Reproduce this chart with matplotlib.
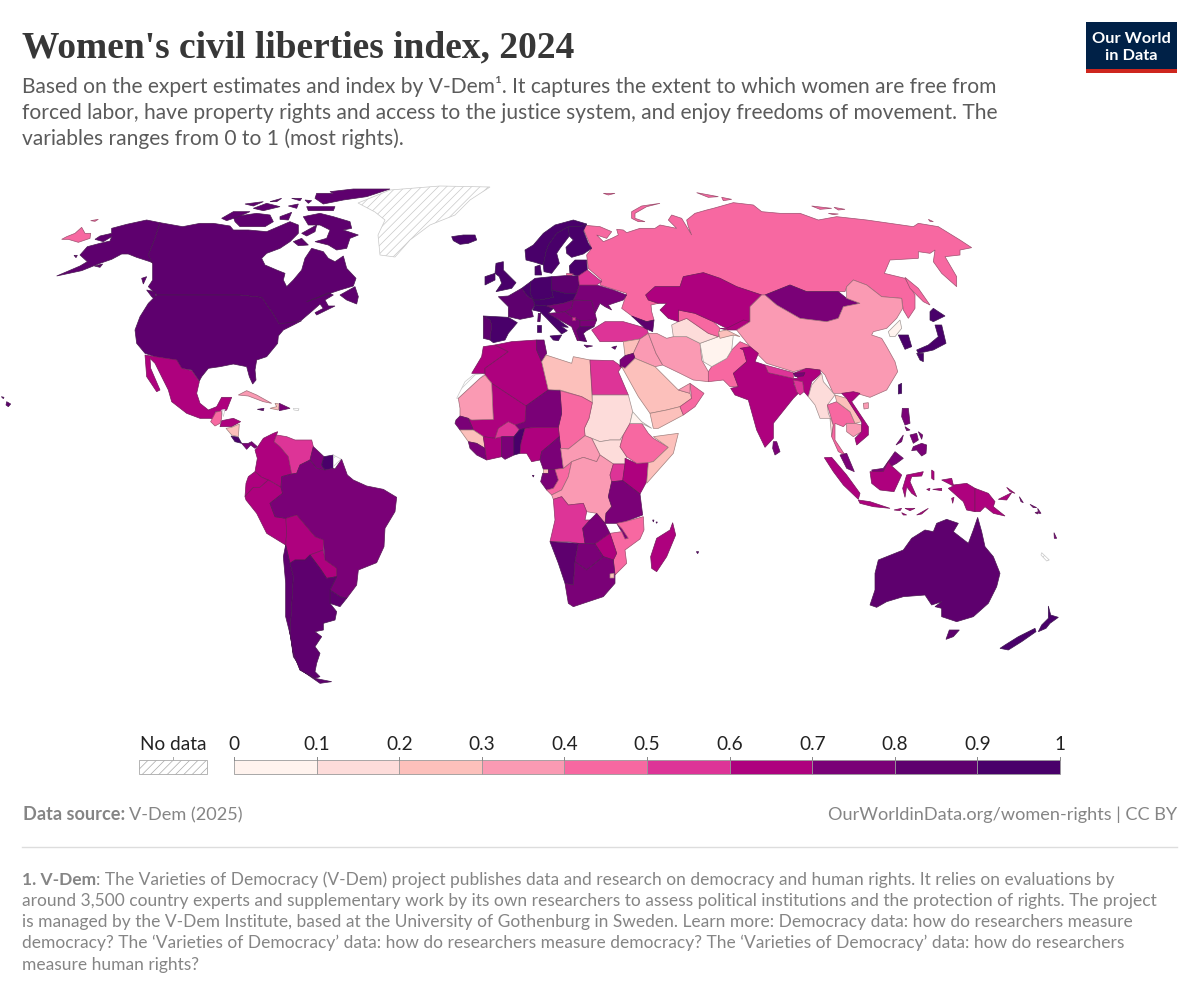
import matplotlib
matplotlib.use("Agg")
import matplotlib.pyplot as plt
from matplotlib.patches import Polygon, Rectangle
from matplotlib.colors import BoundaryNorm, ListedColormap, to_rgb

# ---------- data ----------
BIN_EDGES = [0, .1, .2, .3, .4, .5, .6, .7, .8, .9, 1]
BIN_LABELS = ["0", "0.1", "0.2", "0.3", "0.4", "0.5", "0.6", "0.7", "0.8", "0.9", "1"]
BIN_COLORS = ["#fff3ee", "#fddcda", "#fcc0bb", "#fa9ab3", "#f768a1", "#dd3497",
              "#ae017e", "#7a0177", "#5e006e", "#49006a"]
NO_DATA = ["Greenland", "W Sahara", "French Guiana", "Belize", "Puerto Rico", "New Caledonia"]

VALUES = {
 "USA": .85, "Alaska": .85, "Canada": .85, "Hawaii": .85, "Iceland": .93, "Chukotka": .45, "Wrangel": .45,
 "Mexico": .65, "Guatemala": .45, "Honduras": .65, "Nicaragua": .25, "Costa Rica": .92, "Panama": .78,
 "Cuba": .33, "Haiti": .25, "Dominican Rep": .75, "Jamaica": .85,
 "Colombia": .68, "Ecuador": .68, "Peru": .65, "Venezuela": .55, "Guyana": .75, "Suriname": .9,
 "Brazil": .76, "Bolivia": .66, "Paraguay": .66, "Uruguay": .85, "Chile": .85, "Argentina": .85,
 "Morocco": .65, "Algeria": .65, "Tunisia": .75, "Libya": .25, "Egypt": .55, "Sudan": .15, "S Sudan": .15,
 "Chad": .45, "Niger": .75, "Mali": .65, "Mauritania": .33, "Senegal": .76, "Guinea": .25, "Sierra Liberia": .74,
 "Ivory Coast": .66, "Burkina Faso": .55, "Ghana": .78, "Benin Togo": .92, "Nigeria": .65, "Cameroon": .72,
 "Eq Guinea": .25, "Gabon": .76, "Congo": .45, "CAR": .35, "DRC": .35, "Uganda": .55, "Kenya": .66,
 "Ethiopia": .45, "Somalia": .25, "Eritrea": .05, "Tanzania": .75, "Angola": .55, "Zambia": .76, "Malawi": .76,
 "Mozambique": .45, "Zimbabwe": .65, "Namibia": .86, "Botswana": .78, "South Africa": .78, "Madagascar": .66,
 "Eswatini": .25,
 "Indonesia": .65, "Malaysia": .75, "Philippines": .76, "PNG": .65, "Solomon": .75, "Australia": .85,
 "Tasmania": .85, "New Zealand": .92, "Sri Lanka": .76, "Myanmar": .15, "Thailand": .45, "Laos": .25,
 "Cambodia": .33, "Vietnam": .65, "Islands": .85,
 "Norway": .94, "Sweden": .94, "Finland": .94, "Baltics": .92, "Poland": .82, "Denmark": .94, "Germany": .93,
 "Benelux": .92, "France": .88, "Spain": .9, "Portugal": .85, "UK": .9, "Ireland": .92, "Central": .9,
 "Italy": .9, "Hungary": .78, "Romania": .76, "Ukraine": .76, "Belarus": .55, "Balkans": .78, "Bulgaria": .76,
 "Greece": .85, "Kosovo": .55, "Kaliningrad": .45,
 "Turkey": .55, "Syria": .25, "Iraq": .35, "Jordan": .72, "Saudi Arabia": .25, "Yemen": .25, "Oman": .45, "UAE": .33,
 "Iran": .33, "Pakistan": .45, "Afghanistan": .05, "Turkmenistan": .15, "Uzbekistan": .45, "Kazakhstan": .65,
 "Kyrgyzstan": .68, "Tajikistan": .25, "Caucasus": .85, "Mongolia": .76, "China": .33, "Russia": .45,
 "N Korea": .05, "S Korea": .92, "Japan": .93, "Taiwan": .92, "Nepal": .55, "Bhutan": .75, "India": .65,
 "Bangladesh": .55,
}

ORIGINS = {"na": (0, 180), "sa": (120, 400), "eu": (440, 210), "af": (440, 340), "as": (580, 190), "oc": (740, 360)}

NA = {
 "Greenland": [[(1074,69),(1170,30),(1320,18),(1470,21),(1410,60),(1365,105),(1290,135),(1230,180),(1185,231),(1140,225),(1134,165),(1155,120),(1125,96)]],
 "Alaska": [[(335,145),(380,133),(440,120),(480,128),(465,175),(445,225),(460,250),(450,245),(410,232),(385,222),(365,222),(335,238),(300,250),(245,272),(170,288),(240,258),(262,245),(240,225),(262,200),(300,190),(330,183),(335,170),(310,185),(285,178),(300,168),(335,160)],
            [(222,226),(232,226),(228,233)],[(283,258),(308,252),(300,262)],[(425,295),(440,290),(430,312)]],
 "Canada": [[(480,128),(548,140),(600,130),(640,130),(690,138),(700,150),(745,150),(800,155),(835,140),(870,125),(895,135),(895,160),(870,185),(840,205),(800,220),(785,235),(795,255),(830,270),(855,280),(850,300),(860,320),(880,300),(905,270),(915,235),(935,205),(970,215),(985,235),(1005,245),(1030,228),(1040,265),(1068,295),(1060,318),(1020,330),(975,345),(920,365),(960,350),(985,338),(1000,345),(975,360),(985,378),(1005,378),(950,405),(945,398),(970,385),(960,372),(940,390),(905,420),(880,428),(838,432),(815,395),(785,352),(720,345),(470,345),(445,320),(458,300),(458,250),(445,225),(465,175)],
   [(910,110),(960,100),(1000,110),(1050,125),(1055,145),(1030,150),(1075,165),(1050,175),(1040,205),(1010,210),(985,195),(945,185),(980,175),(990,150),(960,135),(925,135)],
   [(880,185),(905,175),(925,195),(895,197)],[(905,160),(950,135),(945,155),(920,168)],
   [(700,110),(770,100),(810,105),(820,125),(795,140),(720,140),(705,125)],
   [(665,115),(700,95),(750,95),(715,110),(680,122)],
   [(990,35),(1060,27),(1170,27),(1100,50),(1030,60),(970,72),(945,55),(950,40),(1000,40)],
   [(920,80),(1005,80),(1000,92),(925,92)],[(735,72),(790,65),(760,78)],[(760,85),(800,70),(840,80),(790,92)],
   [(810,65),(845,55),(830,65)],[(875,55),(905,55),(900,62)],[(865,78),(895,72),(890,85)],
   [(840,110),(875,97),(865,120),(840,118)],[(915,60),(935,62),(925,70)],
   [(1020,345),(1065,320),(1075,350),(1070,372),(1040,360)],[(440,330),(465,335),(470,362),(455,350)]],
 "USA": [[(470,345),(720,345),(785,352),(815,395),(838,432),(905,422),(880,435),(850,450),(835,468),(833,490),(800,530),(770,540),(765,570),(768,600),(758,612),(748,590),(740,560),(700,552),(660,560),(625,565),(605,590),(598,603),(575,570),(545,565),(530,540),(465,530),(435,520),(410,490),(405,450),(420,410),(445,370)]],
 "Chukotka": [[(185,178),(200,170),(225,160),(245,142),(255,160),(272,160),(270,175),(235,187),(205,178)]],
 "Wrangel": [[(272,122),(295,118),(285,124)]],
 "Hawaii": [[(20,665),(32,672),(25,680),(18,675)],[(4,650),(12,652),(10,656)]],
 "Mexico": [[(435,525),(465,530),(530,540),(545,565),(575,572),(598,605),(590,640),(600,670),(625,690),(650,680),(665,652),(695,652),(680,690),(668,695),(645,695),(650,720),(630,715),(600,715),(560,700),(515,665),(505,630),(465,550),(450,535),(452,565),(480,630),(470,635),(440,590),(437,550)]],
 "Cuba": [[(715,645),(740,632),(770,645),(815,670),(790,665),(745,648)]],
 "Haiti": [[(825,670),(838,672),(835,690),(810,685),(830,680)]],
 "Dominican Rep": [[(838,670),(870,685),(838,692)]],
 "Jamaica": [[(772,688),(792,685),(790,692)]],
 "Puerto Rico": [[(880,685),(897,686),(895,692),(882,690)]],
}
SA = {
 "Guatemala": [[(287,37),(305,32),(305,55),(300,70),(285,78),(272,65)]],
 "Belize": [[(305,30),(315,28),(310,50)]],
 "Honduras": [[(305,62),(340,55),(362,65),(335,80),(315,80),(300,80)]],
 "Nicaragua": [[(335,82),(358,72),(355,110),(335,105),(318,85)]],
 "Costa Rica": [[(333,108),(355,112),(365,130),(345,125)]],
 "Panama": [[(365,130),(385,130),(395,125),(412,140),(405,145),(392,135),(380,148)]],
 "Colombia": [[(410,145),(430,115),(460,100),(473,95),(462,125),(480,140),(505,170),(515,222),(485,230),(483,262),(455,245),(425,232),(405,215),(412,175),(405,150)]],
 "Ecuador": [[(405,215),(425,232),(445,240),(420,262),(400,262),(375,290),(378,250),(385,230)]],
 "Peru": [[(375,290),(400,262),(420,262),(445,240),(483,262),(488,280),(450,310),(465,350),(498,355),(500,400),(497,435),(440,400),(410,340),(378,300)]],
 "Venezuela": [[(470,105),(500,110),(525,120),(575,120),(580,140),(570,180),(540,195),(530,220),(515,222),(505,170),(480,140),(462,125)]],
 "Guyana": [[(580,140),(612,170),(605,195),(615,210),(590,205),(570,180)]],
 "Suriname": [[(612,170),(640,165),(640,205),(615,210),(605,195)]],
 "French Guiana": [[(640,165),(665,178),(645,207),(640,205)]],
 "Brazil": [[(485,230),(515,222),(530,220),(540,195),(570,180),(590,205),(615,210),(640,205),(645,207),(665,178),(682,225),(700,240),(740,258),(790,268),(830,292),(825,335),(795,385),(792,440),(770,488),(715,510),(710,555),(680,595),(660,590),(630,570),(650,530),(650,505),(615,480),(610,420),(585,410),(530,345),(498,355),(465,350),(450,310),(488,280),(483,262)]],
 "Bolivia": [[(498,355),(530,345),(585,410),(610,420),(610,450),(570,465),(555,480),(525,480),(510,490),(497,435),(500,400)]],
 "Paraguay": [[(570,465),(610,450),(615,480),(650,505),(650,530),(620,535),(600,505)]],
 "Uruguay": [[(630,570),(660,590),(680,595),(660,620),(630,610)]],
 "Chile": [[(497,435),(510,490),(520,530),(515,620),(510,700),(520,760),(540,810),(585,835),(635,845),(600,850),(550,815),(520,770),(512,710),(497,650),(497,550),(490,470)]],
 "Argentina": [[(510,490),(525,480),(555,480),(570,465),(600,505),(620,535),(650,530),(630,570),(630,610),(650,635),(645,660),(610,670),(610,690),(585,695),(605,710),(585,740),(600,760),(590,790),(585,815),(600,830),(585,835),(540,810),(520,760),(510,700),(515,620),(520,530)]],
}
AF = {
 "W Sahara": [[(50,175),(75,125),(100,105),(135,100),(135,105),(120,115),(55,175)]],
 "Morocco": [[(95,100),(125,50),(130,20),(165,15),(205,35),(135,85),(135,100)]],
 "Algeria": [[(165,15),(215,5),(290,0),(290,30),(305,65),(325,150),(258,198),(155,130),(135,105),(135,85),(205,35)]],
 "Tunisia": [[(290,0),(312,0),(320,40),(305,65),(290,30)]],
 "Libya": [[(305,65),(318,45),(395,70),(400,50),(450,60),(457,188),(425,170),(360,150),(325,150)]],
 "Egypt": [[(450,60),(520,62),(545,80),(535,95),(565,165),(457,165)]],
 "Sudan": [[(457,165),(565,165),(578,215),(570,250),(550,285),(540,300),(510,300),(480,305),(455,295),(435,287),(433,265),(447,235),(457,188)]],
 "S Sudan": [[(455,295),(480,305),(510,300),(540,300),(550,285),(540,320),(560,350),(555,372),(520,372),(480,345)]],
 "Chad": [[(360,152),(425,170),(457,188),(447,235),(433,265),(435,287),(385,327),(362,325),(355,262),(365,220)]],
 "Niger": [[(258,198),(325,150),(360,152),(365,220),(355,262),(290,262),(255,265),(238,270),(225,255),(255,245)]],
 "Mali": [[(155,130),(258,198),(255,245),(225,255),(205,245),(175,265),(165,295),(130,290),(100,270),(85,235),(95,240),(160,238)]],
 "Mauritania": [[(55,175),(120,115),(135,105),(155,130),(160,238),(95,240),(85,235),(60,228),(60,205)]],
 "Senegal": [[(48,240),(60,228),(85,235),(100,270),(60,270),(45,250)]],
 "Guinea": [[(60,270),(100,270),(130,290),(135,325),(110,310),(85,305)]],
 "Sierra Liberia": [[(85,305),(110,310),(135,325),(140,360),(110,345),(90,325)]],
 "Ivory Coast": [[(130,290),(165,295),(185,290),(185,350),(140,360),(135,325)]],
 "Burkina Faso": [[(165,295),(175,265),(205,245),(225,255),(238,270),(222,290),(185,290)]],
 "Ghana": [[(185,290),(222,290),(222,345),(195,358),(185,350)]],
 "Benin Togo": [[(222,290),(238,270),(255,265),(243,310),(240,340),(222,345)]],
 "Nigeria": [[(243,310),(255,265),(290,262),(355,262),(358,290),(335,310),(305,335),(300,360),(275,365),(260,340),(240,340)]],
 "Cameroon": [[(300,360),(305,335),(335,310),(358,290),(362,325),(370,385),(345,388),(310,388)]],
 "Eq Guinea": [[(310,388),(325,388),(325,400),(308,400)]],
 "Gabon": [[(308,400),(325,400),(325,388),(345,388),(355,420),(340,445),(320,450),(302,425)]],
 "Congo": [[(345,388),(370,385),(395,365),(385,410),(365,450),(335,465),(320,450),(340,445),(355,420)]],
 "CAR": [[(362,325),(385,327),(435,287),(455,295),(480,345),(470,365),(430,352),(395,365),(370,385)]],
 "DRC": [[(335,465),(365,450),(385,410),(395,365),(430,352),(470,365),(480,345),(520,372),(510,405),(515,425),(505,470),(515,500),(498,520),(495,550),(470,520),(440,515),(430,490),(385,495),(365,470),(340,478)]],
 "Uganda": [[(520,372),(555,372),(548,422),(515,425),(510,405)]],
 "Kenya": [[(555,355),(590,370),(625,368),(620,425),(600,462),(548,422),(555,372)]],
 "Ethiopia": [[(570,250),(605,250),(625,280),(640,295),(685,322),(640,365),(625,368),(590,370),(560,350),(540,320),(550,285)]],
 "Somalia": [[(640,290),(715,280),(700,340),(620,430),(625,368),(640,365),(685,322)]],
 "Eritrea": [[(578,215),(605,245),(635,265),(605,250),(570,250)]],
 "Tanzania": [[(515,425),(548,422),(600,462),(608,525),(555,545),(530,550),(495,550),(498,520),(515,500),(505,470)]],
 "Angola": [[(340,478),(365,470),(385,495),(430,490),(440,515),(435,540),(450,540),(428,565),(435,610),(415,610),(385,605),(330,605),(345,540)]],
 "Zambia": [[(450,540),(470,520),(495,550),(510,580),(465,612),(435,610),(428,565)]],
 "Malawi": [[(530,550),(545,565),(565,595),(555,597),(545,575)]],
 "Mozambique": [[(610,530),(612,570),(600,597),(555,630),(560,670),(525,705),(520,660),(530,640),(510,580),(545,575),(555,597),(565,595),(545,565),(530,550),(555,545)]],
 "Zimbabwe": [[(465,612),(510,580),(530,640),(520,660),(490,650)]],
 "Namibia": [[(330,605),(415,610),(405,665),(400,735),(375,730),(355,670)]],
 "Botswana": [[(415,610),(465,612),(490,650),(440,690),(405,665)]],
 "South Africa": [[(405,665),(440,690),(490,650),(520,660),(525,705),(525,730),(490,770),(400,800),(385,790),(375,730),(400,735)]],
 "Eswatini": [[(510,702),(522,700),(522,714),(510,714)]],
 "Madagascar": [[(698,548),(707,585),(680,650),(650,695),(635,685),(632,650),(650,595),(690,570)]],
 "Islands": [[(277,406),(282,406),(280,411)],[(769,635),(776,635),(773,641)],[(638,540),(642,540),(640,546)],[(648,546),(652,546),(650,550)]],
}
EU = {
 "Iceland": [[(35,80),(70,75),(105,75),(110,90),(85,100),(60,103),(40,92)]],
 "Norway": [[(255,120),(280,105),(310,70),(345,45),(400,30),(440,42),(420,50),(385,50),(350,70),(325,105),(318,125),(310,165),(285,157),(258,150)]],
 "Sweden": [[(318,125),(325,105),(350,70),(385,50),(388,78),(360,115),(350,130),(358,160),(335,190),(312,185),(310,165)]],
 "Finland": [[(385,50),(420,50),(440,42),(430,62),(445,100),(455,115),(430,132),(395,142),(380,130),(378,112),(400,90),(388,78)]],
 "Baltics": [[(388,168),(405,150),(440,150),(442,180),(415,198),(390,192)]],
 "Kaliningrad": [[(380,190),(400,192),(395,197),(380,197)]],
 "Poland": [[(335,200),(375,197),(415,198),(418,225),(410,250),(375,250),(335,240)]],
 "Denmark": [[(285,170),(300,165),(305,195),(285,195)]],
 "Germany": [[(272,215),(285,205),(335,200),(335,240),(340,262),(300,270),(280,270),(270,250)]],
 "Benelux": [[(245,235),(272,215),(270,250),(280,270),(262,258)]],
 "France": [[(175,260),(205,258),(245,235),(262,258),(280,270),(285,285),(275,300),(280,320),(240,328),(205,320),(205,290)],[(295,310),(302,310),(300,335),(293,335)]],
 "Spain": [[(130,318),(205,322),(232,338),(205,370),(195,390),(160,398),(150,390),(155,345),(150,330)]],
 "Portugal": [[(130,318),(150,330),(155,345),(150,390),(130,385)]],
 "UK": [[(168,160),(190,155),(190,180),(205,195),(228,218),(215,235),(168,245),(185,220),(178,200),(165,190)]],
 "Ireland": [[(135,200),(165,190),(165,210),(135,225)]],
 "Central": [[(335,240),(375,250),(410,250),(400,270),(370,280),(320,288),(285,285),(280,270),(300,270),(340,262)]],
 "Italy": [[(285,285),(320,288),(340,295),(325,310),(350,325),(385,352),(365,350),(382,362),(365,372),(320,325),(300,305),(278,300)],[(330,378),(365,375),(355,392),(340,390)],[(290,345),(302,345),(302,365),(290,365)]],
 "Hungary": [[(340,295),(320,288),(370,280),(400,270),(395,295),(375,305),(350,308)]],
 "Romania": [[(400,270),(455,272),(465,310),(470,330),(420,332),(395,320),(375,305),(395,295)]],
 "Ukraine": [[(418,225),(470,225),(520,240),(560,255),(550,270),(505,285),(515,300),(495,290),(480,280),(465,310),(455,272),(400,270),(410,250)]],
 "Belarus": [[(415,198),(442,180),(485,215),(470,225),(418,225)]],
 "Balkans": [[(325,310),(350,308),(375,305),(395,320),(420,332),(420,350),(410,362),(425,392),(412,392),(395,350),(350,325)]],
 "Bulgaria": [[(420,332),(470,330),(462,350),(420,350)]],
 "Greece": [[(410,362),(420,350),(462,350),(440,362),(430,370),(440,395),(420,392)],[(432,405),(458,408),(440,412)],[(515,412),(530,408),(525,418)]],
 "Kosovo": [[(396,320),(405,320),(405,330),(396,330)]],
}
AS = {
 "Russia": [[(5,105),(60,110),(95,125),(80,145),(50,135),(70,155),(95,145),(115,135),(110,118),(130,120),(140,128),(180,115),(225,115),(240,105),(290,115),(265,90),(275,75),(305,85),(335,135),(325,110),(320,90),(345,70),(380,60),(400,55),(460,38),(520,45),(545,65),(600,70),(660,70),(715,90),(770,80),(860,90),(930,100),(1000,110),(1015,100),(1075,110),(1140,150),(1175,173),(1140,180),(1140,195),(1095,200),(1130,260),(1130,290),(1085,250),(1060,215),(1065,180),(1050,190),(1015,185),(1015,205),(930,210),(913,250),(975,265),(1005,315),(1005,355),(985,385),(970,360),(965,325),(905,320),(860,285),(820,270),(800,290),(795,305),(775,305),(680,305),(630,285),(555,315),(545,315),(470,290),(420,265),(370,248),(310,260),(300,290),(225,290),(197,315),(205,330),(235,340),(213,345),(215,365),(222,390),(200,395),(165,385),(125,355),(140,310),(60,285),(65,270),(25,235),(20,195),(35,175)],
   [(975,262),(1015,295),(1050,345),(1030,335),(990,295)],
   [(240,40),(200,50),(165,70),(165,85),(195,95),(175,95),(155,85),(155,65),(185,48)],
   [(70,10),(105,10),(85,15)],[(350,8),(415,20),(385,22)],[(425,22),(455,28),(430,32)],
   [(695,48),(755,55),(720,58)],[(762,52),(795,58),(775,60)],[(745,70),(775,72),(760,74)],[(1045,88),(1060,95),(1050,94)]],
 "Turkey": [[(35,420),(75,395),(130,395),(200,415),(205,430),(180,447),(130,455),(60,455)]],
 "Syria": [[(130,455),(180,447),(160,490),(135,497)]],
 "Iraq": [[(180,447),(205,430),(228,490),(248,525),(225,530),(165,505),(160,490)]],
 "Jordan": [[(120,510),(135,497),(160,490),(165,505),(135,535),(120,530)]],
 "Saudi Arabia": [[(125,530),(135,535),(165,505),(225,530),(295,600),(330,610),(335,625),(300,650),(260,660),(210,670),(175,620)]],
 "Yemen": [[(210,670),(260,660),(300,650),(310,675),(235,715),(220,715)]],
 "Oman": [[(330,580),(372,610),(345,650),(310,675),(300,650),(335,625)]],
 "UAE": [[(295,600),(330,580),(330,610)]],
 "Iran": [[(205,430),(230,430),(260,445),(280,440),(320,440),(360,460),(365,510),(385,545),(385,575),(340,570),(300,550),(248,525),(228,490)]],
 "Pakistan": [[(395,530),(440,505),(455,480),(480,455),(515,470),(490,480),(500,515),(460,550),(475,590),(450,590),(430,570),(385,575),(385,545)]],
 "Afghanistan": [[(360,460),(415,440),(460,435),(455,480),(440,505),(395,530),(370,515)]],
 "Turkmenistan": [[(275,405),(295,395),(320,385),(385,430),(415,440),(360,460),(320,440),(280,440)]],
 "Uzbekistan": [[(295,360),(345,370),(400,395),(420,415),(415,440),(385,430),(320,385),(295,395)]],
 "Kazakhstan": [[(197,315),(225,290),(300,290),(310,260),(370,248),(420,265),(470,290),(545,315),(510,350),(510,395),(440,415),(400,395),(345,370),(295,360),(295,395),(265,385),(240,360),(260,340),(235,340),(205,330)]],
 "Kyrgyzstan": [[(420,415),(440,415),(490,390),(510,395),(480,420),(440,420)]],
 "Tajikistan": [[(415,425),(440,420),(480,440),(460,435),(420,445)]],
 "Caucasus": [[(155,378),(200,395),(222,390),(218,425),(195,415)]],
 "Mongolia": [[(555,315),(630,285),(680,305),(775,305),(800,325),(840,340),(790,350),(775,385),(740,395),(660,385),(590,345)]],
 "China": [[(545,315),(555,315),(590,345),(660,385),(740,395),(775,385),(790,350),(840,340),(800,325),(800,290),(820,270),(860,285),(905,320),(965,325),(968,355),(950,385),(920,415),(880,425),(875,435),(905,445),(920,470),(945,515),(953,545),(920,600),(870,622),(830,610),(790,610),(760,610),(735,555),(720,540),(680,535),(640,545),(560,520),(510,470),(470,420),(510,395),(510,350)],
           [(850,640),(865,638),(865,655),(852,657)]],
 "N Korea": [[(925,425),(960,390),(965,415),(945,440),(930,440)]],
 "S Korea": [[(955,435),(985,435),(995,470),(975,478)]],
 "Japan": [[(1050,365),(1060,355),(1095,378),(1060,395),(1050,390)],[(1065,405),(1085,405),(1098,460),(1060,480),(1015,490),(1010,480),(1045,465),(1075,440)],[(1010,490),(1030,490),(1030,515),(1020,510)]],
 "Taiwan": [[(955,585),(965,580),(965,610),(955,612)]],
 "India": [[(480,475),(510,470),(535,490),(525,515),(555,525),(565,548),(640,565),(655,565),(640,550),(680,535),(720,540),(722,552),(695,575),(685,620),(672,605),(668,575),(640,580),(655,610),(640,625),(580,700),(580,745),(555,772),(530,720),(505,630),(465,615),(452,595),(475,590),(460,550),(500,515),(490,480)]],
 "Nepal": [[(555,525),(640,548),(640,565),(565,548)]],
 "Bhutan": [[(640,550),(675,548),(670,558),(645,560)]],
 "Bangladesh": [[(640,570),(668,575),(672,605),(660,615),(650,605)]],
}
OC = {
 "Sri Lanka": [[(100,245),(110,245),(120,275),(105,285),(98,265)]],
 "Myanmar": [[(245,40),(250,65),(285,105),(262,135),(265,160),(280,195),(275,230),(270,175),(240,175),(225,135),(205,110),(215,75)]],
 "Thailand": [[(262,135),(290,125),(330,155),(345,190),(320,190),(310,200),(285,190),(285,240),(315,285),(295,275),(275,230),(280,195)]],
 "Laos": [[(285,105),(320,115),(365,185),(345,190),(330,155),(290,125)]],
 "Cambodia": [[(320,190),(345,190),(365,195),(365,215),(340,230),(320,215)]],
 "Vietnam": [[(305,100),(340,95),(360,100),(335,125),(385,200),(385,225),(350,255),(345,235),(365,215),(365,185),(320,115)]],
 "Malaysia": [[(300,285),(320,280),(343,335),(320,325)],[(395,330),(430,325),(465,275),(490,295),(470,310),(455,318),(445,305),(430,335),(400,340)]],
 "Indonesia": [[(390,335),(430,335),(445,305),(455,318),(485,345),(462,395),(420,390),(395,370)],
   [(253,293),(275,292),(320,345),(360,400),(355,418),(310,375),(280,335)],
   [(355,420),(390,425),(450,445),(400,440),(360,430)],
   [(500,345),(550,335),(545,348),(515,350),(510,365),(530,410),(515,400),(500,380),(495,412),(488,385)],
   [(462,450),(485,445),(480,452)],[(495,445),(525,445),(510,452)],[(530,465),(565,445),(545,462)],[(485,458),(500,465),(490,465)],
   [(575,330),(582,335),(582,360),(575,355)],[(560,388),(570,385),(568,392)],[(578,388),(605,385),(605,392)],[(635,415),(642,412),(638,430)],
   [(605,360),(635,355),(640,375),(680,370),(705,385),(705,455),(680,450),(670,425),(625,385),(640,378)]],
 "PNG": [[(705,385),(745,400),(765,425),(760,440),(795,468),(760,460),(735,440),(720,455),(705,455)],[(775,418),(815,398),(800,420)],[(800,382),(825,400),(810,395)]],
 "Solomon": [[(838,410),(850,428),(843,425)],[(870,433),(890,443),(880,443)],[(885,458),(895,455),(893,462)],[(893,445),(903,460),(896,460)],[(942,518),(950,535),(943,535)]],
 "Philippines": [[(487,145),(505,145),(510,190),(495,195),(485,170)],[(520,260),(545,250),(560,255),(558,280),(545,288),(530,270),(515,272)],[(510,225),(530,220),(535,240),(520,250)],[(495,200),(510,210),(500,212)],[(535,215),(548,225),(545,238)],[(468,255),(490,225),(485,245)]],
 "Australia": [[(390,735),(405,690),(405,640),(415,600),(490,570),(515,535),(555,510),(580,515),(590,490),(620,478),(655,490),(640,515),(685,550),(700,510),(713,472),(725,515),(735,560),(760,590),(780,640),(770,680),(745,730),(700,770),(650,785),(605,770),(605,745),(585,740),(605,725),(575,735),(555,705),(490,710),(440,725),(410,742)]],
 "Tasmania": [[(628,810),(658,810),(640,830),(618,838)]],
 "New Zealand": [[(780,865),(795,855),(835,830),(885,805),(888,815),(845,845),(805,870)],[(925,738),(932,765),(955,772),(930,790),(918,805),(895,815),(905,795),(925,775),(925,760)]],
 "New Caledonia": [[(905,578),(928,600),(920,603),(903,585)]],
}
GROUPS = [("na", NA), ("sa", SA), ("af", AF), ("as", AS), ("eu", EU), ("oc", OC)]

TITLE = "Women's civil liberties index, 2024"
SUBTITLE = ["Based on the expert estimates and index by V-Dem¹. It captures the extent to which women are free from",
            "forced labor, have property rights and access to the justice system, and enjoy freedoms of movement. The",
            "variables ranges from 0 to 1 (most rights)."]
NOTE_LEAD = "1. V-Dem"
NOTE = [": The Varieties of Democracy (V-Dem) project publishes data and research on democracy and human rights. It relies on evaluations by",
        "around 3,500 country experts and supplementary work by its own researchers to assess political institutions and the protection of rights. The project",
        "is managed by the V-Dem Institute, based at the University of Gothenburg in Sweden. Learn more: Democracy data: how do researchers measure",
        "democracy? The ‘Varieties of Democracy’ data: how do researchers measure democracy? The ‘Varieties of Democracy’ data: how do researchers",
        "measure human rights?"]

# ---------- drawing ----------
plt.rcParams["font.family"] = ["Lato", "DejaVu Sans"]
plt.rcParams["hatch.linewidth"] = 0.5
W, H = 1200, 997
fig = plt.figure(figsize=(W / 100, H / 100), dpi=100)
ax = fig.add_axes([0, 0, 1, 1])
ax.set_xlim(0, W)
ax.set_ylim(H, 0)
ax.axis("off")

cmap = ListedColormap(BIN_COLORS)
norm = BoundaryNorm(BIN_EDGES, cmap.N)
HATCH_EDGE = "#c8c8c8"


def edge_of(face):
    r, g, b = to_rgb(face[:3] if not isinstance(face, str) else face)
    return (r * .55 + .2 * .45, g * .55 + .2 * .45, b * .55 + .2 * .45)


for key, group in GROUPS:
    ox, oy = ORIGINS[key]
    for name, rings in group.items():
        for ring in rings:
            pts = [(ox + x / 3, oy + y / 3) for x, y in ring]
            if name in NO_DATA:
                ax.add_patch(Polygon(pts, closed=True, facecolor="white", edgecolor=HATCH_EDGE,
                                     hatch="////", linewidth=0.5, zorder=2))
            else:
                face = cmap(norm(VALUES[name]))
                ax.add_patch(Polygon(pts, closed=True, facecolor=face,
                                     edgecolor=edge_of(face), linewidth=0.5, zorder=2))

# legend
BAR_X0, BAR_X1, BAR_Y0, BAR_Y1 = 234, 1060, 760, 774
span = BAR_X1 - BAR_X0
for i, col in enumerate(BIN_COLORS):
    x0 = BAR_X0 + span * BIN_EDGES[i]
    x1 = BAR_X0 + span * BIN_EDGES[i + 1]
    ax.add_patch(Rectangle((x0, BAR_Y0), x1 - x0, BAR_Y1 - BAR_Y0, facecolor=col, edgecolor="#9a9a9a", linewidth=0.6, zorder=3))
for e, lab in zip(BIN_EDGES, BIN_LABELS):
    x = BAR_X0 + span * e
    ax.plot([x, x], [757, BAR_Y0], color="#888888", lw=0.7, zorder=3)
    ax.text(x, 750, lab, ha="center", va="baseline", fontsize=13.7, color="#222222")
ax.add_patch(Rectangle((139, BAR_Y0), 68, 14, facecolor="white", edgecolor="#a8a8a8", hatch="////", linewidth=0.6, zorder=3))
ax.plot([173, 173], [757, BAR_Y0], color="#aaaaaa", lw=0.7)
ax.text(173, 750, "No data", ha="center", va="baseline", fontsize=13.7, color="#222222")

# header
ax.text(22, 57, TITLE, fontsize=27, family="Liberation Serif", weight="bold", color="#373737", va="baseline")
for text, y in zip(SUBTITLE, [93, 119, 145]):
    ax.text(22, y, text, fontsize=15.1, color="#5b5b5b", va="baseline")

# logo
ax.add_patch(Rectangle((1086, 22), 91, 51, facecolor="#002147", edgecolor="none"))
ax.add_patch(Rectangle((1086, 69), 91, 4, facecolor="#ce261e", edgecolor="none"))
ax.text(1131.5, 43, "Our World", ha="center", va="baseline", color="white", fontsize=11.8, weight="bold")
ax.text(1131.5, 60, "in Data", ha="center", va="baseline", color="white", fontsize=11.8, weight="bold")

# footer
renderer = fig.canvas.get_renderer()
GREY = "#858585"
lead = ax.text(23, 820, "Data source:", fontsize=13.1, weight="bold", color=GREY, va="baseline")
end = lead.get_window_extent(renderer).x1
ax.text(end + 4, 820, "V-Dem (2025)", fontsize=13.1, color=GREY, va="baseline")
ax.text(1177, 820, "OurWorldinData.org/women-rights | CC BY", fontsize=13.1, color=GREY, ha="right", va="baseline")
ax.plot([22, 1177], [847, 847], color="#dddddd", lw=1)
lead = ax.text(22, 885, NOTE_LEAD, fontsize=12.55, weight="bold", color=GREY, va="baseline")
end = lead.get_window_extent(renderer).x1
ax.text(end, 885, NOTE[0], fontsize=12.55, color=GREY, va="baseline")
for text, y in zip(NOTE[1:], [906, 927, 948, 970]):
    ax.text(22, y, text, fontsize=12.55, color=GREY, va="baseline")

fig.savefig("out.png", dpi=100, facecolor="white")
